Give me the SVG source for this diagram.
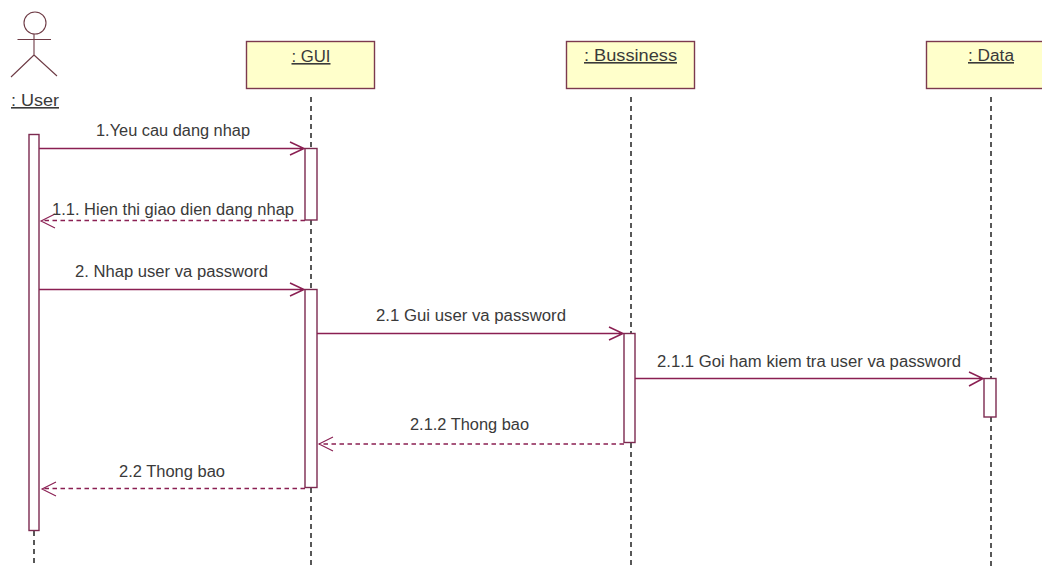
<svg xmlns="http://www.w3.org/2000/svg" width="1042" height="566" viewBox="0 0 1042 566">
<style>
.box{fill:#ffffcb;stroke:#7c3a4e;stroke-width:1.4}
.act{fill:#fff;stroke:#7c2a50;stroke-width:1.4}
.life{stroke:#222;stroke-width:1.5;stroke-dasharray:5 4;fill:none}
.msg{stroke:#8a1f52;stroke-width:1.5;fill:none}
.ret{stroke:#8a1f52;stroke-width:1.4;fill:none;stroke-dasharray:4.500 3.500}
.head{stroke:#8a1f52;stroke-width:1.1;fill:none}
.actor{stroke:#6e3b45;stroke-width:1.1;fill:none}
text{font-family:"Liberation Sans",Arial,sans-serif;font-size:16px;fill:#3a3a3a}
.n{text-anchor:middle;text-decoration:underline}
</style>
<rect width="1042" height="566" fill="#fff"/>
<g id="lifelines">
<path class="life" d="M34 531V566"/>
<path class="life" d="M311 97V148M311 220V289M311 488V566"/>
<path class="life" d="M631 97V333M631 443V566"/>
<path class="life" d="M991 97V378M991 417V566"/>
</g>
<g id="user">
<circle class="actor" cx="35" cy="23" r="11"/>
<path class="actor" d="M17.500 39.500H51M34 34V55M34 55L11 77M34 55L57 76"/>
<text class="n" x="35" y="106" textLength="48" lengthAdjust="spacingAndGlyphs">: User</text>
<rect class="act" x="29" y="134.500" width="10" height="396"/>
</g>
<g id="gui">
<rect class="box" x="246.500" y="41.500" width="128" height="47"/>
<text class="n" x="311" y="62" textLength="39" lengthAdjust="spacingAndGlyphs">: GUI</text>
<rect class="act" x="305" y="148.500" width="12" height="71.500"/>
<rect class="act" x="305" y="289.500" width="12" height="198"/>
</g>
<g id="bussiness">
<rect class="box" x="566.500" y="41.500" width="128" height="47"/>
<text class="n" x="630.500" y="61" textLength="93" lengthAdjust="spacingAndGlyphs">: Bussiness</text>
<rect class="act" x="624" y="333.500" width="11" height="109"/>
</g>
<g id="data">
<rect class="box" x="926.500" y="41.500" width="128" height="47"/>
<text class="n" x="991" y="61" textLength="46" lengthAdjust="spacingAndGlyphs">: Data</text>
<rect class="act" x="984" y="378.500" width="12" height="38.500"/>
</g>
<g id="connectors">
<path class="msg" d="M39 148.500H304M290 142L304 148.500L290 155"/>
<path class="ret" d="M305 220.500H41"/><path class="head" d="M55 214L41 221L55 228"/>
<path class="msg" d="M39 289.500H304M290 283L304 289.500L290 296"/>
<path class="msg" d="M317 333.500H623M609 327L623 333.500L609 340"/>
<path class="msg" d="M635 378.500H983M969 372L983 378.500L969 386"/>
<path class="ret" d="M624 444H319"/><path class="head" d="M333 437L319 444L333 451"/>
<path class="ret" d="M305 488.500H42"/><path class="head" d="M56 482L42 489L56 496"/>
</g>
<g id="labels">
<text x="96" y="136" textLength="154" lengthAdjust="spacingAndGlyphs">1.Yeu cau dang nhap</text>
<text x="52" y="215" textLength="242" lengthAdjust="spacingAndGlyphs">1.1. Hien thi giao dien dang nhap</text>
<text x="75" y="277" textLength="193" lengthAdjust="spacingAndGlyphs">2. Nhap user va password</text>
<text x="376" y="321" textLength="190" lengthAdjust="spacingAndGlyphs">2.1 Gui user va password</text>
<text x="657" y="367" textLength="304" lengthAdjust="spacingAndGlyphs">2.1.1 Goi ham kiem tra user va password</text>
<text x="410" y="430" textLength="119" lengthAdjust="spacingAndGlyphs">2.1.2 Thong bao</text>
<text x="119" y="477" textLength="106" lengthAdjust="spacingAndGlyphs">2.2 Thong bao</text>
</g>
</svg>
